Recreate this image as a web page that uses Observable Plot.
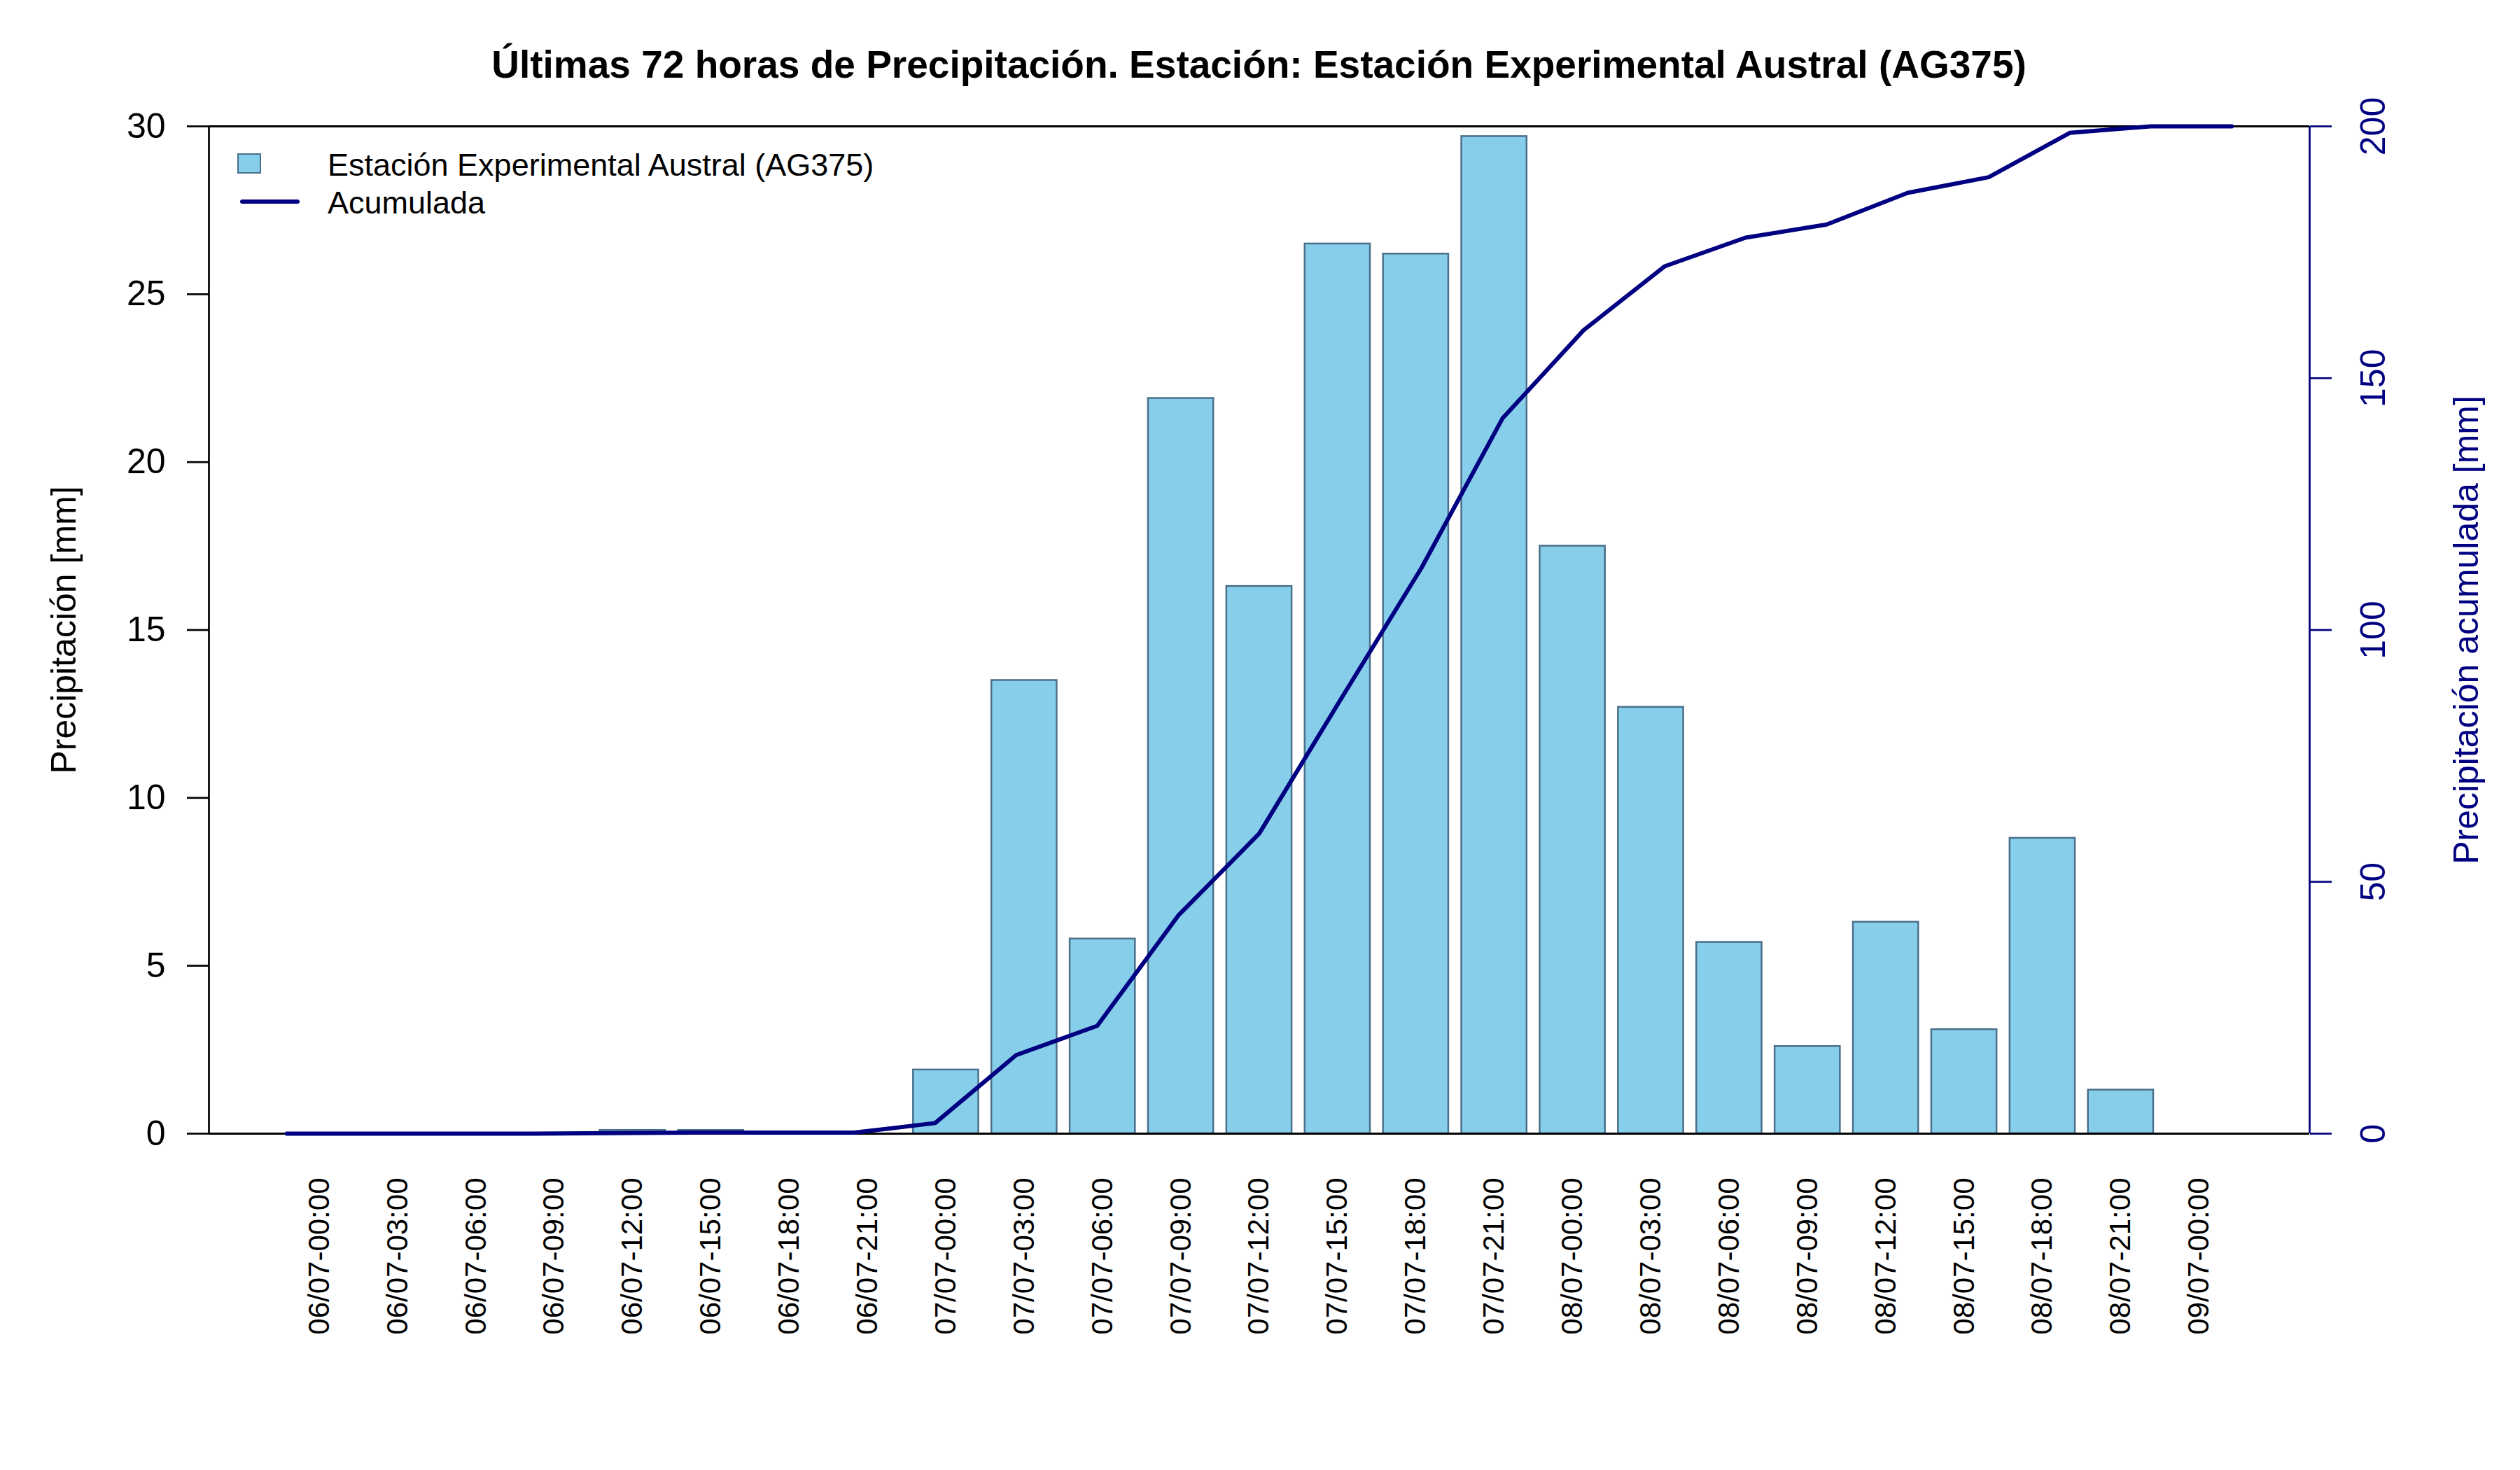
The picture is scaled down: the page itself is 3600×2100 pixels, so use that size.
<!DOCTYPE html>
<html>
<head>
<meta charset="utf-8">
<script src="https://cdn.jsdelivr.net/npm/d3@7"></script>
<script src="https://cdn.jsdelivr.net/npm/@observablehq/plot@0.6"></script>
<style>
  html, body { margin: 0; padding: 0; background: #fff; }
  #page { position: relative; width: 3600px; height: 2100px; font-family: "Liberation Sans", Arial, sans-serif; }
  #titlebar { position: relative; height: 130px; }
  #title { position: absolute; left: 298px; width: 3001px; top: 65px; text-align: center; font-weight: bold; font-size: 55px; line-height: 55px; color: #000; white-space: nowrap; }
  .legtext { position: absolute; left: 468px; font-size: 45px; line-height: 45px; color: #000; white-space: nowrap; }
  #legsq { position: absolute; left: 339px; top: 219px; width: 34px; height: 29px; box-sizing: border-box; background: #87CEEB; border: 2.5px solid #4A708B; }
  #legline { position: absolute; left: 343px; top: 285px; width: 85px; height: 6px; background: #000080; border-radius: 3px; }
  svg { display: block; }
</style>
</head>
<body>
<div id="page">
  <div id="titlebar"><div id="title">Últimas 72 horas de Precipitación. Estación: Estación Experimental Austral (AG375)</div></div>
  <div id="chart"></div>
  <div id="legsq"></div>
  <div id="legline"></div>
  <div class="legtext" style="top:213px">Estación Experimental Austral (AG375)</div>
  <div class="legtext" style="top:267px">Acumulada</div>
</div>
<script>
// ---- data ----
const labels = [
  "06/07-00:00","06/07-03:00","06/07-06:00","06/07-09:00","06/07-12:00","06/07-15:00","06/07-18:00","06/07-21:00",
  "07/07-00:00","07/07-03:00","07/07-06:00","07/07-09:00","07/07-12:00","07/07-15:00","07/07-18:00","07/07-21:00",
  "08/07-00:00","08/07-03:00","08/07-06:00","08/07-09:00","08/07-12:00","08/07-15:00","08/07-18:00","08/07-21:00",
  "09/07-00:00"
];
const precip = [0,0,0,0,0.1,0.1,0,0, 1.9,13.5,5.8,21.9,16.3,26.5,26.2,29.7, 17.5,12.7,5.7,2.6,6.3,3.1,8.8,1.3, 0];
const acumulada = [0,0,0,0,0.1,0.2,0.2,0.2, 2.1,15.6,21.4,43.3,59.6,86.1,112.3,142.0, 159.5,172.2,177.9,180.5,186.8,189.9,198.7,200.0, 200.0];
const leftTicks = [0,5,10,15,20,25,30];
const rightTicks = [0,50,100,150,200];
const leftMax = 30, rightMax = 200;

// ---- geometry of a base-graphics barplot (width 1, space 0.2) ----
const n = labels.length;
const lo = 0.2, hi = 1.2 * n;
const pad = 0.04 * (hi - lo);
const xlo = lo - pad, xhi = hi + pad;
// the line was drawn on its own index axis 1..n with 4% padding
const upad = 0.04 * (n - 1);
const ulo = 1 - upad, uhi = n + upad;
const lineX = i => xlo + ((i + 1) - ulo) / (uhi - ulo) * (xhi - xlo);
const toLeft = v => v * leftMax / rightMax;

const data = labels.map((l, i) => ({
  label: l, p: precip[i], c: acumulada[i],
  x1: lo + 1.2 * i, x2: lo + 1.2 * i + 1, xc: lo + 1.2 * i + 0.5, xl: lineX(i)
}));

const navy = "#000080";
const chart = Plot.plot({
  width: 3600,
  height: 1970,
  marginLeft: 298,
  marginRight: 301,
  marginTop: 50,
  marginBottom: 481,
  style: { fontFamily: '"Liberation Sans", Arial, sans-serif', background: "#fff", color: "#000" },
  x: { type: "linear", domain: [xlo, xhi], axis: null },
  y: { domain: [0, leftMax], axis: null },
  marks: [
    Plot.rectY(data, { x1: "x1", x2: "x2", y1: 0, y2: "p", fill: "#87CEEB", stroke: "#4A708B", strokeWidth: 2.5 }),
    Plot.ruleY([0, leftMax], { stroke: "#000", strokeWidth: 3 }),
    Plot.ruleX([xlo], { y1: 0, y2: leftMax, stroke: "#000", strokeWidth: 2.7 }),
    Plot.axisY({ anchor: "left", ticks: leftTicks, tickSize: 31, tickPadding: 31, fontSize: 50, strokeWidth: 2.7, label: null }),
    Plot.ruleX([xhi], { y1: 0, y2: leftMax, stroke: navy, strokeWidth: 2.7 }),
    Plot.axisY({ anchor: "right", ticks: rightTicks.map(toLeft), tickFormat: () => "", tickSize: 31, stroke: navy, strokeWidth: 2.7, label: null }),
    Plot.text(rightTicks, { y: d => toLeft(d), text: d => String(d), frameAnchor: "right", dx: 91, rotate: -90, textAnchor: "middle", lineAnchor: "middle", fill: navy, fontSize: 50 }),
    Plot.line(data, { x: "xl", y: d => toLeft(d.c), stroke: navy, strokeWidth: 6, strokeLinejoin: "round", strokeLinecap: "round" }),
    Plot.text(data, { x: "xc", text: "label", frameAnchor: "bottom", dy: 63, rotate: -90, textAnchor: "end", lineAnchor: "middle", fontSize: 42, fill: "#000" }),
    Plot.text(["Precipitación [mm]"], { text: d => d, frameAnchor: "left", dx: -207, rotate: -90, textAnchor: "middle", lineAnchor: "middle", fontSize: 50, fill: "#000" }),
    Plot.text(["Precipitación acumulada [mm]"], { text: d => d, frameAnchor: "right", dx: 224, rotate: -90, textAnchor: "middle", lineAnchor: "middle", fontSize: 50, fill: navy })
  ]
});
document.getElementById("chart").appendChild(chart);
</script>
</body>
</html>
